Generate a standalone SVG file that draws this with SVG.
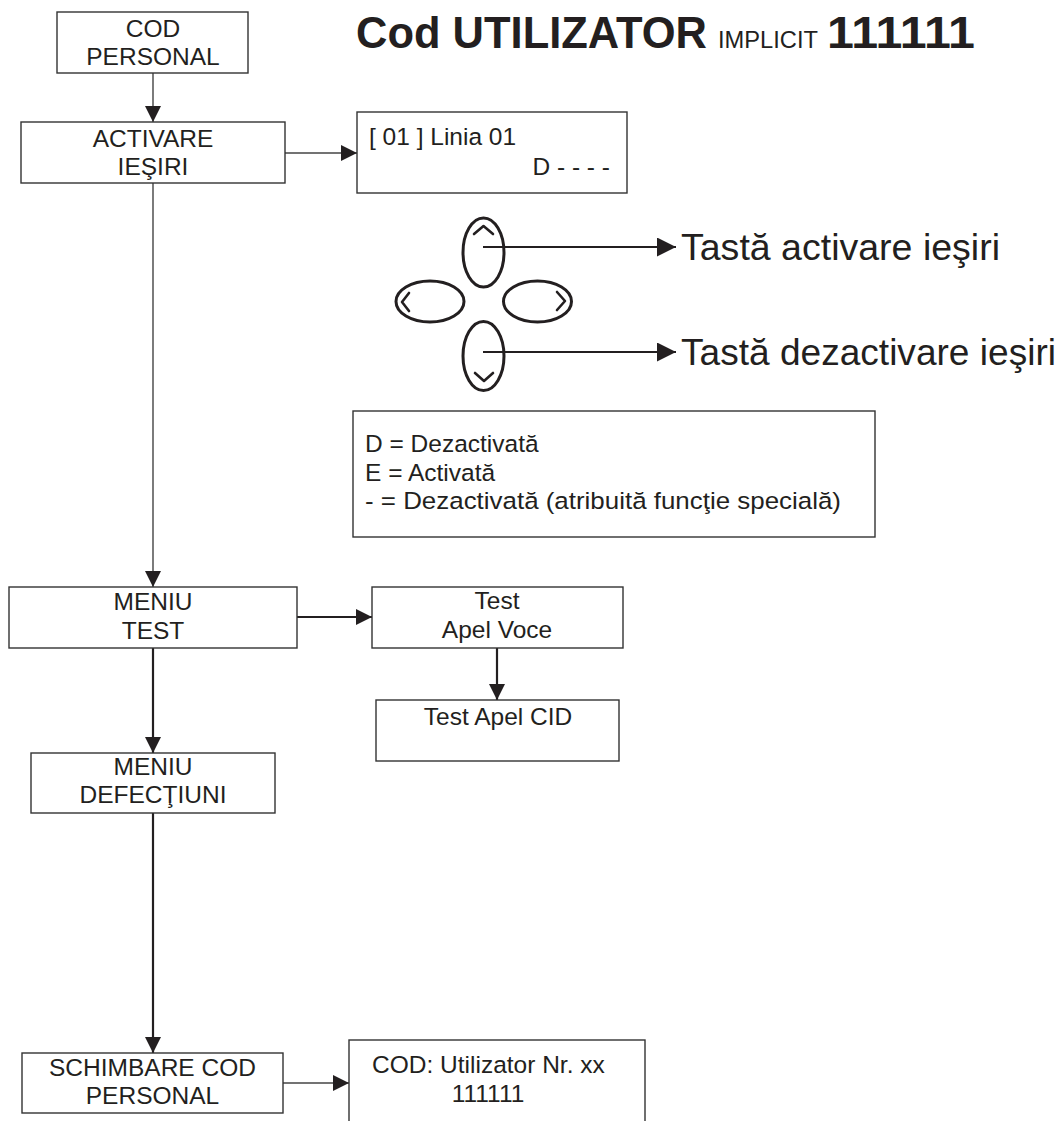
<svg xmlns="http://www.w3.org/2000/svg" width="1060" height="1121" viewBox="0 0 1060 1121">
<defs>
<style>
.box{fill:#fff;stroke:#333;stroke-width:1.4}
.t{font-family:"Liberation Sans",Arial,sans-serif;font-size:24.5px;fill:#231f20}
.c{text-anchor:middle}
.thin{stroke:#444;stroke-width:1.4;fill:none}
.thick{stroke:#231f20;stroke-width:2.2;fill:none}
.key{fill:none;stroke:#231f20;stroke-width:3}
.chev{fill:none;stroke:#231f20;stroke-width:2.6;stroke-linecap:round;stroke-linejoin:round}
.title{font-family:"Liberation Sans",Arial,sans-serif;font-weight:bold;font-size:43.5px;fill:#231f20}
.big{font-family:"Liberation Sans",Arial,sans-serif;font-size:37px;fill:#231f20}
</style>
<marker id="ah" markerUnits="userSpaceOnUse" markerWidth="16" markerHeight="16" viewBox="0 0 16 16" refX="16" refY="8" orient="auto">
<path d="M0,0 L16,8 L0,16 Z" fill="#231f20"/>
</marker>
<marker id="ahk" markerUnits="userSpaceOnUse" markerWidth="19" markerHeight="19" viewBox="0 0 18 18" refX="18" refY="9" orient="auto">
<path d="M0,0 L18,9 L0,18 Z" fill="#231f20"/>
</marker>
</defs>
<rect width="1060" height="1121" fill="#fff"/>

<g id="title">
<text class="title" x="356" y="48" textLength="351" lengthAdjust="spacingAndGlyphs">Cod UTILIZATOR</text>
<text class="t" x="718" y="48" style="font-size:24px" textLength="100" lengthAdjust="spacingAndGlyphs">IMPLICIT</text>
<text class="title" x="827" y="48" textLength="148" lengthAdjust="spacingAndGlyphs">111111</text>
</g>

<g id="connectors">
<line class="thin" x1="153" y1="73" x2="153" y2="122" marker-end="url(#ah)"/>
<line class="thin" x1="285" y1="153" x2="357" y2="153" marker-end="url(#ah)"/>
<line class="thin" x1="153" y1="183" x2="153" y2="587" marker-end="url(#ah)"/>
<line class="thick" x1="293" y1="617" x2="372" y2="617" marker-end="url(#ah)"/>
<line class="thick" x1="153" y1="648" x2="153" y2="753" marker-end="url(#ah)"/>
<line class="thick" x1="497" y1="648" x2="497" y2="700" marker-end="url(#ah)"/>
<line class="thick" x1="153" y1="813" x2="153" y2="1053" marker-end="url(#ah)"/>
<line class="thin" x1="283" y1="1083" x2="349" y2="1083" marker-end="url(#ah)"/>
<line class="thick" x1="483" y1="247" x2="676" y2="247" marker-end="url(#ahk)"/>
<line class="thick" x1="483" y1="352" x2="676" y2="352" marker-end="url(#ahk)"/>
</g>

<g id="cod-personal">
<rect class="box" x="57" y="12" width="191" height="61"/>
<text class="t c" x="153" y="37">COD</text>
<text class="t c" x="153" y="65">PERSONAL</text>
</g>

<g id="activare-iesiri">
<rect class="box" x="21" y="122" width="264" height="61"/>
<text class="t c" x="153" y="147">ACTIVARE</text>
<text class="t c" x="153" y="175">IEŞIRI</text>
</g>

<g id="linia-display">
<rect class="box" x="357" y="112" width="270" height="81"/>
<text class="t" x="369" y="145">[ 01 ] Linia 01</text>
<text class="t" x="610" y="175" text-anchor="end">D - - - -</text>
</g>

<g id="keys">
<ellipse class="key" cx="483.5" cy="252.5" rx="20.5" ry="34.5"/>
<ellipse class="key" cx="430" cy="301.5" rx="34" ry="20.5"/>
<ellipse class="key" cx="537.5" cy="301.5" rx="34" ry="20.5"/>
<ellipse class="key" cx="483.5" cy="356" rx="20.5" ry="34.5"/>
<polyline class="chev" points="474,234 483.5,226 493,234"/>
<polyline class="chev" points="409,293 402,302 409,311"/>
<polyline class="chev" points="557,292 565,301 557,310"/>
<polyline class="chev" points="475,373 484,381 493,373"/>
</g>

<g id="key-labels">
<text class="big" x="681" y="260" textLength="319" lengthAdjust="spacingAndGlyphs">Tastă activare ieşiri</text>
<text class="big" x="681" y="365" textLength="375" lengthAdjust="spacingAndGlyphs">Tastă dezactivare ieşiri</text>
</g>

<g id="legend">
<rect class="box" x="353" y="411" width="522" height="126"/>
<text class="t" x="365" y="452">D = Dezactivată</text>
<text class="t" x="365" y="481">E = Activată</text>
<text class="t" x="365" y="509" textLength="476" lengthAdjust="spacingAndGlyphs">- = Dezactivată (atribuită funcţie specială)</text>
</g>

<g id="meniu-test">
<rect class="box" x="9" y="587" width="288" height="61"/>
<text class="t c" x="153" y="610">MENIU</text>
<text class="t c" x="153" y="639">TEST</text>
</g>

<g id="test-apel-voce">
<rect class="box" x="372" y="587" width="251" height="61"/>
<text class="t c" x="497" y="609">Test</text>
<text class="t c" x="497" y="638">Apel Voce</text>
</g>

<g id="test-apel-cid">
<rect class="box" x="376" y="700" width="243" height="61"/>
<text class="t c" x="498" y="725">Test Apel CID</text>
</g>

<g id="meniu-defectiuni">
<rect class="box" x="31" y="753" width="244" height="60"/>
<text class="t c" x="153" y="775">MENIU</text>
<text class="t c" x="153" y="803">DEFECŢIUNI</text>
</g>

<g id="schimbare-cod">
<rect class="box" x="22" y="1053" width="261" height="60"/>
<text class="t c" x="152.5" y="1076">SCHIMBARE COD</text>
<text class="t c" x="152.5" y="1104">PERSONAL</text>
</g>

<g id="cod-utilizator">
<rect class="box" x="349" y="1040" width="296" height="100"/>
<text class="t" x="372" y="1073">COD: Utilizator Nr. xx</text>
<text class="t c" x="488" y="1102">111111</text>
</g>
</svg>
